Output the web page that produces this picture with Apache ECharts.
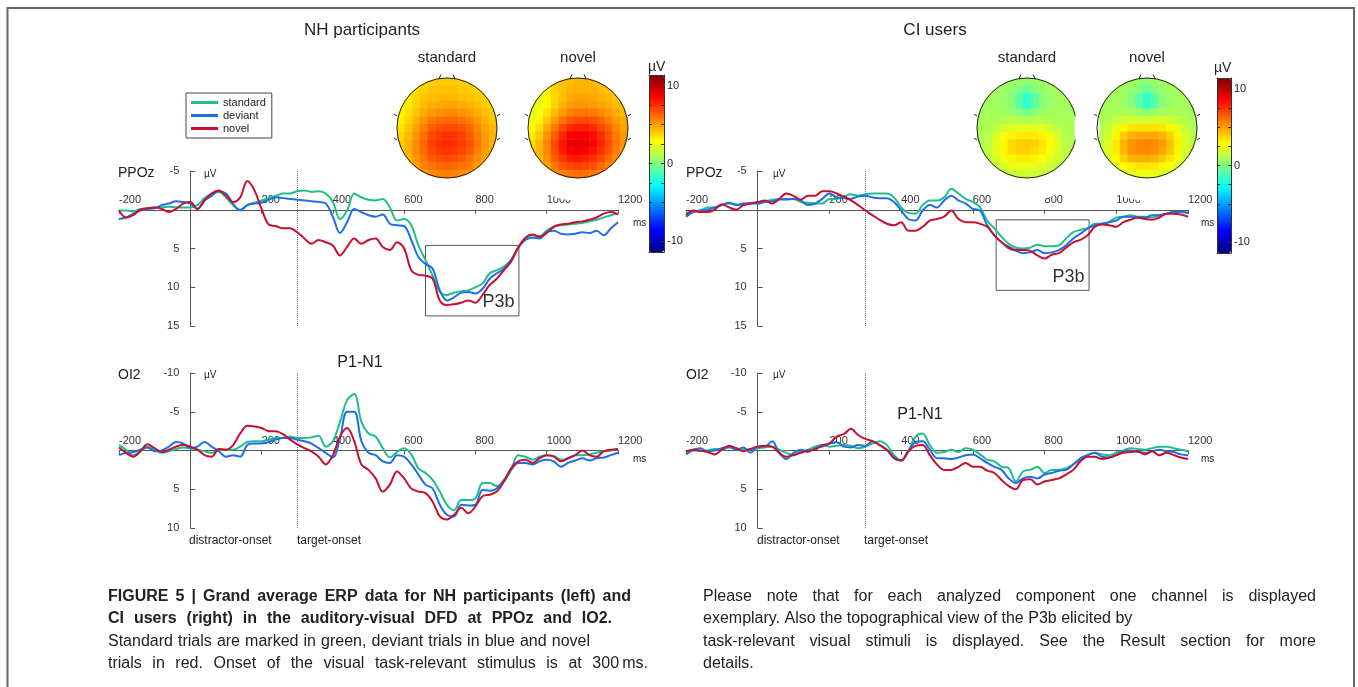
<!DOCTYPE html>
<html>
<head>
<meta charset="utf-8">
<title>Grand average ERP data</title>
<script src="https://cdn.jsdelivr.net/npm/echarts@6/dist/echarts.min.js"></script>
<style>
  html, body { margin: 0; padding: 0; background: #fff; }
  #chart { width: 1358px; height: 687px; }
</style>
</head>
<body>
<div id="chart"></div>
<script>
// time points (ms) shared by all ERP traces
const times = [-200, -180, -160, -140, -120, -100, -80, -60, -40, -20,
  0, 20, 40, 60, 80, 100, 120, 140, 160, 180,
  200, 220, 240, 260, 280, 300, 320, 340, 360, 380,
  400, 420, 440, 460, 480, 500, 520, 540, 560, 580,
  600, 620, 640, 660, 680, 700, 720, 740, 760, 780,
  800, 820, 840, 860, 880, 900, 920, 940, 960, 980,
  1000, 1020, 1040, 1060, 1080, 1100, 1120, 1140, 1160, 1180, 1200];

const targetOnset = 300;

// NH participants, PPOz (µV)
const nhPPOzStandard = [0.1, 0.1, 0.2, -0.1, -0.2, -0.3, -0.3, -0.4, -0.3, -0.3,
  -0.3, -0.6, -1.5, -2.1, -2.3, -1.6, -0.6, 0, -0.6, -0.9,
  -1.2, -1.5, -1.8, -2.1, -2.1, -2.4, -2.5, -2.3, -2.4, -2.1,
  -1.0, 1.2, 0.1, -2.1, -1.6, -1.3, -1.2, -1.4, -0.3, 1.4,
  1.2, 2.0, 4.6, 6.5, 8.5, 10.6, 11.0, 10.7, 10.5, 10.4,
  10.0, 9.5, 8.2, 7.8, 7.3, 6.5, 4.8, 3.7, 3.3, 3.4,
  2.7, 2.2, 2.0, 1.9, 1.8, 1.7, 1.5, 1.3, 1.0, 0.7, 0.5];
const nhPPOzDeviant = [1.2, 1.0, 0.5, 0.1, -0.1, -0.2, -0.6, -0.8, -1.1, -1.0,
  -0.8, -0.1, -1.2, -1.8, -2.4, -2.1, -0.8, 0.1, -0.6, -0.8,
  -0.9, -1.3, -1.6, -1.5, -1.4, -1.3, -1.2, -1.1, -1.0, -0.8,
  0.9, 3.0, 1.6, -0.1, 0.3, 0.7, 0.9, 0.6, 1.8, 2.0,
  2.1, 3.9, 6.1, 7.0, 7.6, 10.4, 11.7, 11.3, 10.7, 10.6,
  10.8, 10.2, 8.9, 8.2, 7.6, 6.5, 4.9, 3.9, 3.6, 3.7,
  2.9, 2.7, 3.1, 3.2, 3.1, 2.9, 3.0, 2.7, 3.3, 2.4, 1.6];
const nhPPOzNovel = [0.1, 1.0, 0.7, 0, -0.2, -0.3, -0.1, 0.3, -0.1, -0.8,
  -1.0, -0.1, -1.2, -2.1, -2.5, -1.8, -1.0, -1.6, -3.7, -2.5,
  -0.1, 1.9, 2.1, 2.4, 2.4, 2.9, 3.7, 4.4, 3.9, 4.2,
  4.6, 5.9, 4.8, 3.7, 4.4, 3.9, 3.7, 4.8, 5.2, 4.2,
  5.0, 7.8, 8.4, 8.5, 8.9, 11.7, 12.3, 12.2, 12.0, 11.7,
  12.0, 11.0, 9.7, 8.9, 7.8, 6.7, 4.9, 3.6, 3.2, 3.5,
  3.0, 2.2, 1.9, 1.8, 1.6, 1.5, 1.3, 1.0, 0.5, 0.3, 0.6];

// NH participants, OI2 (µV)
const nhOI2Standard = [-0.7, -0.1, 0.6, 0.1, -0.5, -0.1, 0.3, 0.1, -0.2, -0.4,
  -0.3, -0.1, 0.1, 0.3, 0, -0.1, -0.1, -0.5, -1.1, -1.2,
  -1.2, -1.4, -1.6, -1.6, -1.8, -1.6, -1.6, -1.7, -1.9, -0.5,
  -1.2, -3.7, -6.5, -7.3, -3.7, -2.2, -1.8, -0.3, 0.9, 0.2,
  -0.3, 0.5, 2.3, 2.9, 3.8, 5.3, 7.0, 7.7, 6.4, 6.4,
  6.2, 4.2, 4.2, 4.6, 4.0, 2.5, 0.6, 0.8, 1.2, 0.8,
  0.6, 0.7, 1.2, 1.0, 0.6, 0.6, 0.5, 0.3, 0.1, 0, -0.2];
const nhOI2Deviant = [0.6, 0.3, 0.2, -0.1, -0.4, 0.1, 0, -0.5, -1.1, -0.9,
  -0.3, -0.5, -1.1, -0.5, 0.1, 0.8, 0.6, 0.8, -0.7, -0.9,
  -0.9, -1.1, -1.4, -1.6, -1.6, -1.4, -1.2, -0.9, -0.3, 0.3,
  0.9, -1.6, -5.0, -5.0, -1.2, 0.3, 0.6, 1.4, 1.6, 0.6,
  0.8, 1.8, 3.1, 4.4, 4.9, 7.0, 8.3, 8.5, 7.0, 7.1,
  7.0, 5.1, 5.2, 4.9, 3.8, 2.5, 1.6, 1.6, 1.8, 1.4,
  1.2, 1.4, 2.1, 1.6, 1.3, 1.0, 1.3, 1.0, 0.9, 0.6, 0.3];
const nhOI2Novel = [-0.4, 0.3, 0.8, 0.1, -0.8, -0.3, 0.2, -0.1, -0.5, -0.7,
  -0.5, -0.1, 0.6, 0.8, -0.2, -0.1, -0.7, -2.2, -3.2, -3.1,
  -2.9, -2.5, -2.5, -2.1, -1.4, -0.8, -0.3, 0.1, 0.8, 1.8,
  0.6, -1.8, -2.9, -1.2, 1.8, 2.5, 3.6, 5.3, 4.4, 2.7,
  3.6, 4.9, 5.3, 5.5, 6.6, 8.5, 8.9, 8.3, 7.4, 8.1,
  7.2, 5.9, 5.7, 5.3, 4.0, 2.3, 1.4, 1.2, 1.6, 1.0,
  0.6, 0.8, 1.4, 1.0, 0.6, 0, 0.6, 0.8, 0.1, -0.1, -0.2];

// CI users, PPOz (µV)
const ciPPOzStandard = [0.4, 0.3, 0.1, -0.3, -0.3, -0.6, -0.8, -0.7, -0.6, -0.9,
  -0.9, -1.1, -1.3, -1.4, -1.3, -1.4, -1.0, -0.9, -0.8, -0.8,
  -1.4, -1.4, -1.7, -2.0, -1.8, -2.0, -2.1, -2.1, -2.1, -1.6,
  -0.3, 0.4, 0.5, -0.6, -1.2, -1.2, -1.6, -2.7, -2.1, -1.4,
  -1.0, -0.3, 1.4, 2.4, 3.5, 4.4, 4.9, 5.0, 4.9, 4.5,
  4.7, 4.7, 4.6, 3.7, 2.9, 2.6, 2.4, 1.8, 1.8, 1.6,
  1.0, 0.9, 0.7, 0.9, 0.9, 1.0, 0.7, 0.5, 0.3, 0.3, 0.4];
const ciPPOzDeviant = [0.9, 0.3, 0.1, 0, -0.3, -0.6, -0.9, -0.6, -0.8, -0.8,
  -0.8, -1.0, -1.1, -1.3, -1.4, -1.4, -1.2, -0.6, -0.8, -1.4,
  -2.1, -1.6, -1.5, -1.4, -1.7, -1.8, -1.6, -1.5, -1.5, -1.0,
  0.1, 1.2, 1.4, 0.1, -0.6, -0.3, -1.2, -1.8, -1.2, -0.8,
  -0.1, 0.1, 2.0, 3.3, 4.2, 5.0, 5.3, 5.6, 5.5, 5.2,
  5.6, 5.5, 5.2, 4.6, 3.7, 3.1, 2.4, 2.0, 1.8, 1.6,
  1.4, 0.9, 0.9, 1.0, 1.0, 0.7, 0.7, 0.5, 0.3, 0.3, 0.4];
const ciPPOzNovel = [0.7, 0.1, 0.3, 0.3, 0, -0.7, -0.3, 0, -0.6, -0.8,
  -1.0, -1.2, -0.8, -1.4, -2.1, -1.8, -1.3, -1.8, -1.8, -2.4,
  -2.4, -2.1, -1.7, -1.2, -0.6, 0.1, 0.7, 1.3, 1.8, 2.0,
  1.6, 2.7, 2.7, 2.2, 1.4, 1.2, 0.9, 0.1, 1.2, 1.6,
  1.6, 1.8, 2.2, 3.3, 4.2, 4.8, 5.2, 5.2, 5.3, 5.9,
  6.3, 5.8, 5.6, 4.9, 4.2, 3.9, 3.3, 2.2, 1.9, 2.0,
  2.2, 1.6, 1.3, 1.0, 1.2, 1.3, 1.0, 0.5, 0.5, 0.6, 0.9];

// CI users, OI2 (µV)
const ciOI2Standard = [0.2, 0, 0.1, 0, -0.2, -0.1, -0.4, -0.3, -0.1, -0.2,
  -0.3, -0.4, -0.5, -0.1, 0.3, 0.6, 0.1, -0.1, -0.5, -0.7,
  -0.5, -0.6, -0.7, -0.6, -0.3, -0.5, -0.9, -1.2, -0.7, 0.6,
  1.3, 0.1, -1.8, -2.2, -0.7, 0.3, 0.2, -0.1, 0.2, -0.3,
  -0.1, 0.5, 1.2, 1.4, 2.1, 2.3, 4.0, 2.7, 2.5, 2.1,
  2.9, 2.5, 2.5, 2.3, 1.8, 1.2, 0.6, 0.3, 0.5, 0.6,
  0.3, 0, -0.3, -0.2, -0.1, -0.3, -0.5, -0.5, -0.3, -0.1, 0.1];
const ciOI2Deviant = [0.5, -0.1, -0.3, 0.1, 0, -0.3, -0.5, -0.1, -0.4, 0.3,
  -0.5, -0.5, -1.2, 0.3, 1.1, 0.3, -0.1, 0.2, -0.3, -0.5,
  -0.9, -1.1, -0.5, -0.4, -0.7, -0.6, -1.2, -0.7, -0.1, 0.8,
  1.3, 0.1, -1.1, -1.2, -0.1, 1.0, 1.0, 1.1, 0.9, 0.6,
  0.5, 1.0, 1.6, 2.1, 2.5, 3.6, 4.2, 3.6, 3.4, 3.6,
  3.1, 2.9, 2.6, 2.5, 1.8, 1.0, 0.6, 0.3, 0.8, 0.9,
  0.6, 0.1, 0, 0.2, 0.3, 0.1, -0.1, 0.1, 0.2, 0.5, 0.6];
const ciOI2Novel = [0.1, -0.1, 0, 0.2, 0.5, -0.1, -0.6, -0.3, 0.1, -0.2,
  -0.5, -0.6, -0.5, 0.3, 0.8, 0.6, 0.3, 0, -0.1, -0.7,
  -0.9, -1.8, -2.1, -2.8, -2.0, -1.5, -1.2, -0.7, -0.1, 1.0,
  1.3, 0.1, -0.6, -0.7, 0.6, 1.8, 2.5, 2.5, 2.1, 1.6,
  2.1, 2.1, 2.6, 2.9, 3.8, 4.6, 5.0, 3.8, 3.7, 4.4,
  4.0, 3.8, 3.6, 3.1, 2.5, 1.4, 0.8, 0.8, 1.1, 0.9,
  0.6, 0.3, 0.2, 0.1, 0.5, 0.1, 0.6, 0.3, 0.6, 0.9, 1.1];

// P3b window [tStart, tEnd, vTop, vBottom]
const p3bBoxNH = [660, 922, 4.6, 13.7];
const p3bBoxCI = [665, 924, 1.3, 10.4];

// topographies of the P3b, 13x13 grid read row by row (front of head on top), µV
const topoNHStandard = [
  [3.5, 3.5, 3.6, 3.8, 3.9, 4.0, 4.0, 4.0, 3.9, 3.8, 3.6, 3.5, 3.5],
  [3.3, 3.4, 3.7, 3.9, 4.1, 4.2, 4.2, 4.2, 4.1, 4.0, 3.8, 3.6, 3.5],
  [3.1, 3.3, 3.7, 4.1, 4.3, 4.4, 4.4, 4.4, 4.3, 4.2, 4.0, 3.8, 3.6],
  [3.0, 3.3, 3.8, 4.3, 4.6, 4.7, 4.8, 4.8, 4.7, 4.5, 4.3, 4.0, 3.8],
  [3.0, 3.5, 4.1, 4.7, 5.1, 5.3, 5.4, 5.4, 5.3, 5.0, 4.6, 4.3, 4.0],
  [3.2, 3.8, 4.5, 5.2, 5.8, 6.1, 6.2, 6.2, 6.0, 5.6, 5.1, 4.6, 4.2],
  [3.5, 4.1, 4.9, 5.7, 6.4, 6.8, 6.9, 6.9, 6.7, 6.2, 5.5, 4.9, 4.4],
  [3.8, 4.4, 5.2, 6.1, 6.9, 7.3, 7.5, 7.4, 7.1, 6.6, 5.8, 5.1, 4.5],
  [4.0, 4.6, 5.4, 6.3, 7.1, 7.5, 7.6, 7.5, 7.2, 6.7, 5.9, 5.1, 4.6],
  [4.0, 4.6, 5.4, 6.2, 6.9, 7.3, 7.4, 7.3, 7.0, 6.5, 5.7, 5.0, 4.5],
  [4.0, 4.5, 5.2, 5.9, 6.5, 6.8, 6.9, 6.8, 6.5, 6.0, 5.4, 4.8, 4.4],
  [4.0, 4.4, 4.9, 5.5, 5.9, 6.2, 6.3, 6.2, 6.0, 5.6, 5.1, 4.6, 4.3],
  [4.0, 4.3, 4.6, 5.0, 5.4, 5.6, 5.7, 5.6, 5.4, 5.1, 4.8, 4.5, 4.2]
];
const topoNHNovel = [
  [3.0, 3.2, 3.5, 3.9, 4.2, 4.4, 4.5, 4.5, 4.4, 4.3, 4.1, 4.0, 4.0],
  [2.6, 2.8, 3.2, 3.8, 4.2, 4.5, 4.6, 4.6, 4.6, 4.4, 4.2, 4.0, 4.0],
  [2.3, 2.5, 3.0, 3.7, 4.3, 4.7, 4.9, 4.9, 4.8, 4.6, 4.4, 4.2, 4.0],
  [2.1, 2.4, 3.0, 3.8, 4.5, 5.0, 5.2, 5.2, 5.1, 4.9, 4.6, 4.4, 4.2],
  [2.2, 2.6, 3.4, 4.3, 5.1, 5.7, 5.9, 5.9, 5.8, 5.5, 5.1, 4.7, 4.4],
  [2.5, 3.1, 4.0, 5.0, 6.0, 6.6, 6.9, 6.9, 6.7, 6.3, 5.7, 5.1, 4.7],
  [2.9, 3.6, 4.7, 5.8, 6.9, 7.6, 7.9, 7.9, 7.6, 7.0, 6.3, 5.5, 4.9],
  [3.3, 4.1, 5.2, 6.5, 7.7, 8.5, 8.8, 8.7, 8.3, 7.6, 6.7, 5.8, 5.1],
  [3.7, 4.4, 5.5, 6.9, 8.1, 8.9, 9.1, 9.0, 8.5, 7.8, 6.9, 5.9, 5.2],
  [3.9, 4.5, 5.5, 6.8, 7.9, 8.6, 8.8, 8.6, 8.1, 7.5, 6.6, 5.7, 5.0],
  [4.0, 4.5, 5.3, 6.4, 7.3, 7.9, 8.0, 7.9, 7.5, 6.9, 6.1, 5.4, 4.8],
  [4.0, 4.4, 5.0, 5.8, 6.5, 7.0, 7.1, 7.0, 6.7, 6.2, 5.6, 5.0, 4.6],
  [4.0, 4.3, 4.7, 5.2, 5.7, 6.0, 6.1, 6.0, 5.8, 5.5, 5.1, 4.7, 4.4]
];
const topoCIStandard = [
  [0.8, 0.8, 0.8, 0.8, 0.7, 0.5, 0.3, 0.5, 0.7, 0.8, 0.8, 0.8, 0.8],
  [0.8, 0.8, 0.8, 0.7, 0.5, 0.0, -0.6, 0.0, 0.5, 0.7, 0.8, 0.8, 0.8],
  [0.8, 0.8, 0.8, 0.6, 0.2, -0.8, -1.8, -0.8, 0.2, 0.6, 0.8, 0.8, 0.8],
  [0.8, 0.8, 0.8, 0.6, 0.2, -0.8, -1.8, -0.8, 0.2, 0.6, 0.8, 0.8, 0.8],
  [0.8, 0.8, 0.8, 0.8, 0.6, 0.2, -0.3, 0.2, 0.6, 0.8, 0.8, 0.8, 0.8],
  [0.9, 0.9, 1.0, 1.1, 1.2, 1.2, 1.1, 1.2, 1.2, 1.1, 1.0, 0.9, 0.9],
  [1.0, 1.1, 1.4, 1.8, 2.1, 2.2, 2.2, 2.2, 2.1, 1.8, 1.4, 1.1, 1.0],
  [1.0, 1.3, 1.9, 2.6, 3.1, 3.3, 3.3, 3.3, 3.1, 2.6, 1.9, 1.3, 1.0],
  [1.0, 1.4, 2.2, 3.0, 3.6, 3.9, 4.0, 3.9, 3.5, 2.9, 2.1, 1.4, 1.0],
  [1.0, 1.4, 2.2, 3.0, 3.6, 3.9, 3.9, 3.7, 3.3, 2.7, 2.0, 1.4, 1.0],
  [1.0, 1.3, 1.9, 2.6, 3.1, 3.3, 3.3, 3.1, 2.8, 2.3, 1.8, 1.3, 1.0],
  [1.0, 1.1, 1.5, 1.9, 2.3, 2.4, 2.4, 2.3, 2.1, 1.8, 1.4, 1.1, 1.0],
  [1.0, 1.0, 1.2, 1.4, 1.6, 1.7, 1.7, 1.7, 1.6, 1.4, 1.2, 1.0, 1.0]
];
const topoCINovel = [
  [0.8, 0.8, 0.8, 0.8, 0.7, 0.5, 0.3, 0.5, 0.7, 0.8, 0.8, 0.8, 0.8],
  [0.8, 0.8, 0.8, 0.7, 0.5, 0.0, -0.6, 0.0, 0.5, 0.7, 0.8, 0.8, 0.8],
  [0.8, 0.8, 0.8, 0.6, 0.2, -0.8, -1.8, -0.8, 0.2, 0.6, 0.8, 0.8, 0.8],
  [0.8, 0.8, 0.8, 0.6, 0.2, -0.8, -1.7, -0.8, 0.2, 0.6, 0.8, 0.8, 0.8],
  [0.8, 0.9, 1.0, 1.0, 0.9, 0.6, 0.3, 0.6, 0.9, 1.0, 1.0, 0.9, 0.8],
  [0.9, 1.1, 1.5, 1.8, 1.9, 1.9, 1.8, 1.9, 1.9, 1.8, 1.5, 1.1, 0.9],
  [1.1, 1.5, 2.3, 3.0, 3.4, 3.5, 3.5, 3.5, 3.4, 3.0, 2.3, 1.5, 1.1],
  [1.3, 1.9, 3.0, 4.0, 4.6, 4.8, 4.8, 4.8, 4.5, 3.9, 3.0, 1.9, 1.3],
  [1.4, 2.1, 3.3, 4.5, 5.2, 5.5, 5.6, 5.5, 5.1, 4.3, 3.2, 2.1, 1.4],
  [1.4, 2.1, 3.3, 4.5, 5.2, 5.5, 5.5, 5.3, 4.9, 4.1, 3.1, 2.0, 1.4],
  [1.3, 1.9, 2.9, 3.9, 4.5, 4.7, 4.7, 4.5, 4.1, 3.5, 2.7, 1.8, 1.3],
  [1.1, 1.5, 2.2, 2.8, 3.2, 3.4, 3.4, 3.3, 3.0, 2.6, 2.0, 1.5, 1.1],
  [1.0, 1.2, 1.6, 2.0, 2.3, 2.4, 2.4, 2.4, 2.2, 1.9, 1.6, 1.2, 1.0]
];

// colour bar range and labels (µV)
const cbMax = 11.4;
const cbLabels = [-10, 0, 10];
const cbTicks = [-10, -7.5, -5, -2.5, 0, 2.5, 5, 7.5, 10];

const FONT = "'Liberation Sans', Arial, Helvetica, sans-serif";
const NAMES = ['standard', 'deviant', 'novel'];
const COLORS = ['#1dbf8c', '#1f6ee8', '#c8102e'];
const JET = ['#00007f', '#0000ff', '#007fff', '#00ffff', '#7fff7f', '#ffff00', '#ff7f00', '#ff0000', '#7f0000'];

const T_MIN = -200, T_MAX = 1200, PANEL_H = 155;
const erpPanels = [
  { left: 119, top: 171, width: 499, yMin: -5, yMax: 15, traces: [nhPPOzStandard, nhPPOzDeviant, nhPPOzNovel], box: p3bBoxNH },
  { left: 119, top: 373, width: 499, yMin: -10, yMax: 10, traces: [nhOI2Standard, nhOI2Deviant, nhOI2Novel] },
  { left: 686, top: 171, width: 502, yMin: -5, yMax: 15, traces: [ciPPOzStandard, ciPPOzDeviant, ciPPOzNovel], box: p3bBoxCI },
  { left: 686, top: 373, width: 502, yMin: -10, yMax: 10, traces: [ciOI2Standard, ciOI2Deviant, ciOI2Novel] }
];
const topoPanels = [
  { left: 397, top: 78, values: topoNHStandard, vm: 0 },
  { left: 528, top: 78, values: topoNHNovel, vm: 0 },
  { left: 977, top: 78, values: topoCIStandard, vm: 1 },
  { left: 1097, top: 78, values: topoCINovel, vm: 1 }
];
const colorBars = [
  { left: 649, top: 75, width: 15, height: 177 },
  { left: 1217, top: 78, width: 14, height: 175 }
];

const grid = [];
const xAxis = [];
const yAxis = [];
const series = [];
const vmSeries = [[], []];

const hideZero = v => (v === 0 ? '' : String(v));
const lineCol = { color: '#555', width: 1 };
const labelStyle = { fontSize: 11, color: '#333', fontFamily: FONT };
const hiddenValueAxis = gi => ({ gridIndex: gi, type: 'value', min: 0, max: 1, show: false });

erpPanels.forEach(p => {
  // main plotting area: axis lines cross at (0 ms, 0 µV)
  const gi = grid.length;
  grid.push({ left: p.left, top: p.top, width: p.width, height: PANEL_H });
  xAxis.push({
    gridIndex: gi, type: 'value', min: T_MIN, max: T_MAX, interval: 200, z: 3,
    axisLine: { onZero: true, lineStyle: lineCol },
    axisTick: { length: 4, lineStyle: lineCol },
    axisLabel: { show: false }, splitLine: { show: false }
  });
  yAxis.push({
    gridIndex: gi, type: 'value', inverse: true, min: p.yMin, max: p.yMax, interval: 5, z: 3,
    axisLine: { onZero: true, lineStyle: lineCol },
    axisTick: { inside: true, length: 5, lineStyle: lineCol },
    axisLabel: { show: false }, splitLine: { show: false }
  });
  p.traces.forEach((arr, k) => {
    const s = {
      type: 'line', name: NAMES[k], xAxisIndex: gi, yAxisIndex: gi,
      data: times.map((t, i) => [t, arr[i]]),
      showSymbol: false, smooth: 0.35, silent: true, z: 4,
      lineStyle: { width: 2, color: COLORS[k] },
      itemStyle: { color: COLORS[k] }
    };
    if (k === 0) {
      s.markLine = {
        silent: true, symbol: ['none', 'none'], label: { show: false },
        lineStyle: { type: 'dotted', color: '#777', width: 1 },
        data: [{ xAxis: targetOnset }]
      };
    }
    if (k === 2 && p.box) {
      s.markArea = {
        silent: true,
        itemStyle: { color: 'rgba(0,0,0,0)', borderColor: '#555', borderWidth: 1 },
        label: { show: true, position: 'insideBottomRight', distance: 5, fontSize: 18, color: '#333', fontFamily: FONT },
        data: [[{ name: 'P3b', xAxis: p.box[0], yAxis: p.box[2] }, { xAxis: p.box[1], yAxis: p.box[3] }]]
      };
    }
    series.push(s);
  });

  // label carriers that sit on the zero lines
  const x0 = p.left + p.width * (0 - T_MIN) / (T_MAX - T_MIN);
  const y0 = p.top + PANEL_H * (0 - p.yMin) / (p.yMax - p.yMin);
  const gy = grid.length;
  grid.push({ left: x0, top: p.top, width: 1, height: PANEL_H });
  xAxis.push(hiddenValueAxis(gy));
  yAxis.push({
    gridIndex: gy, type: 'value', inverse: true, min: p.yMin, max: p.yMax, interval: 5, position: 'left',
    axisLine: { show: false }, axisTick: { show: false }, splitLine: { show: false },
    axisLabel: Object.assign({ margin: 11, formatter: hideZero }, labelStyle)
  });
  const gx = grid.length;
  grid.push({ left: p.left, top: p.top, width: p.width, height: y0 - p.top });
  xAxis.push({
    gridIndex: gx, type: 'value', min: T_MIN, max: T_MAX, interval: 200, position: 'bottom',
    axisLine: { show: false }, axisTick: { show: false }, splitLine: { show: false },
    axisLabel: Object.assign({ inside: true, align: 'left', margin: 4, formatter: hideZero }, labelStyle)
  });
  yAxis.push(hiddenValueAxis(gx));
});

// scalp maps
topoPanels.forEach(p => {
  const gi = grid.length;
  const n = p.values.length;
  const cats = p.values.map((_, i) => String(i));
  const mid = (n - 1) / 2;
  grid.push({ left: p.left, top: p.top, width: 100, height: 100 });
  xAxis.push({ gridIndex: gi, type: 'category', data: cats, show: false });
  yAxis.push({ gridIndex: gi, type: 'category', data: cats, inverse: true, show: false });
  const cells = [];
  p.values.forEach((row, r) => row.forEach((v, c) => cells.push([c, r, v])));
  vmSeries[p.vm].push(series.length);
  series.push({
    type: 'heatmap', xAxisIndex: gi, yAxisIndex: gi, data: cells, z: 1, silent: true,
    itemStyle: { borderWidth: 0 }, emphasis: { disabled: true }
  });
  // head outline: white mask outside the circle, outline, nose and ears
  series.push({
    type: 'custom', xAxisIndex: gi, yAxisIndex: gi, data: [[mid, mid]], z: 2, silent: true,
    renderItem: (params, api) => {
      const c = api.coord([mid, mid]);
      const R = api.size([1, 1])[0] * n / 2;
      const stroke = { fill: 'none', stroke: '#222', lineWidth: 1 };
      const children = [
        { type: 'circle', shape: { cx: c[0], cy: c[1], r: R + 11.5 }, style: { fill: 'none', stroke: '#fff', lineWidth: 22 } },
        { type: 'circle', shape: { cx: c[0], cy: c[1], r: R }, style: stroke },
        { type: 'polyline', shape: { points: [[c[0] - 8, c[1] - R + 0.5], [c[0] - 6, c[1] - R - 3.5]] }, style: stroke },
        { type: 'polyline', shape: { points: [[c[0] + 8, c[1] - R + 0.5], [c[0] + 6, c[1] - R - 3.5]] }, style: stroke }
      ];
      [-12, 12].forEach(dy => {
        children.push({ type: 'polyline', shape: { points: [[c[0] - R, c[1] + dy], [c[0] - R - 3, c[1] + dy - 2]] }, style: stroke });
        children.push({ type: 'polyline', shape: { points: [[c[0] + R, c[1] + dy], [c[0] + R + 3, c[1] + dy - 2]] }, style: stroke });
      });
      return { type: 'group', children };
    }
  });
});

// colour bar frames with labels
colorBars.forEach(b => {
  const gi = grid.length;
  grid.push({ left: b.left, top: b.top, width: b.width, height: b.height });
  ['bottom', 'top'].forEach(pos => xAxis.push({
    gridIndex: gi, type: 'value', min: 0, max: 1, position: pos, z: 6,
    axisLine: { show: true, onZero: false, lineStyle: { color: '#333' } },
    axisTick: { show: false }, axisLabel: { show: false }, splitLine: { show: false }
  }));
  ['right', 'left'].forEach(pos => yAxis.push({
    gridIndex: gi, type: 'value', min: -cbMax, max: cbMax, position: pos, z: 6,
    axisLine: { show: true, onZero: false, lineStyle: { color: '#333' } },
    axisTick: { show: true, inside: true, length: 3, customValues: cbTicks, lineStyle: { color: '#333' } },
    axisLabel: { show: pos === 'right', customValues: cbLabels, margin: 3, fontSize: 11, color: '#222', fontFamily: FONT },
    splitLine: { show: false }
  }));
});

const visualMap = colorBars.map((b, i) => ({
  type: 'continuous', seriesIndex: vmSeries[i], min: -cbMax, max: cbMax,
  inRange: { color: JET }, left: b.left, top: b.top, padding: 0,
  itemWidth: b.width, itemHeight: b.height, calculable: false, hoverLink: false, z: 4
}));

// free text of the figure: [text, x, y, size, align, weight, justified width]
const texts = [
  ['NH participants', 362, 30, 17, 'center', 'normal'],
  ['CI users', 935, 30, 17, 'center', 'normal'],
  ['standard', 447, 58, 15, 'center', 'normal'],
  ['novel', 578, 58, 15, 'center', 'normal'],
  ['standard', 1027, 58, 15, 'center', 'normal'],
  ['novel', 1147, 58, 15, 'center', 'normal'],
  ['µV', 648, 67, 14, 'left', 'normal'],
  ['µV', 1214, 68, 14, 'left', 'normal'],
  ['PPOz', 118, 173, 14, 'left', 'normal'],
  ['PPOz', 686, 173, 14, 'left', 'normal'],
  ['OI2', 118, 375, 14, 'left', 'normal'],
  ['OI2', 686, 375, 14, 'left', 'normal'],
  ['µV', 204, 174, 10, 'left', 'normal'],
  ['µV', 773, 174, 10, 'left', 'normal'],
  ['µV', 204, 375, 10, 'left', 'normal'],
  ['µV', 773, 375, 10, 'left', 'normal'],
  ['ms', 633, 223, 10, 'left', 'normal'],
  ['ms', 1201, 223, 10, 'left', 'normal'],
  ['ms', 633, 459, 10, 'left', 'normal'],
  ['ms', 1201, 459, 10, 'left', 'normal'],
  ['P1-N1', 360, 363, 16, 'center', 'normal'],
  ['P1-N1', 920, 415, 16, 'center', 'normal'],
  ['distractor-onset', 189, 541, 12, 'left', 'normal'],
  ['target-onset', 297, 541, 12, 'left', 'normal'],
  ['distractor-onset', 757, 541, 12, 'left', 'normal'],
  ['target-onset', 864, 541, 12, 'left', 'normal'],
  ['FIGURE 5 | Grand average ERP data for NH participants (left) and', 108, 597, 16, 'left', 'bold', 523],
  ['CI users (right) in the auditory-visual DFD at PPOz and IO2.', 108, 619, 16, 'left', 'bold', 504],
  ['Standard trials are marked in green, deviant trials in blue and novel', 108, 642, 16, 'left', 'normal', 482],
  ['trials in red. Onset of the visual task-relevant stimulus is at 300\u2009ms.', 108, 664, 16, 'left', 'normal', 540],
  ['Please note that for each analyzed component one channel is displayed', 703, 597, 16, 'left', 'normal', 613],
  ['exemplary. Also the topographical view of the P3b elicited by', 703, 619, 16, 'left', 'normal'],
  ['task-relevant visual stimuli is displayed. See the Result section for more', 703, 642, 16, 'left', 'normal', 613],
  ['details.', 703, 664, 16, 'left', 'normal']
];

const measure = document.createElement('canvas').getContext('2d');
const graphic = [];
texts.forEach(([text, x, y, size, align, weight, justify]) => {
  const style = { fill: '#222', fontSize: size, fontWeight: weight, fontFamily: FONT, verticalAlign: 'middle' };
  const words = text.split(' ');
  if (!justify || words.length < 2) {
    graphic.push({ type: 'text', x, y, z: 100, silent: true, style: Object.assign({ text, align }, style) });
    return;
  }
  measure.font = weight + ' ' + size + 'px ' + FONT;
  const widths = words.map(w => measure.measureText(w).width);
  const gap = (justify - widths.reduce((a, b) => a + b, 0)) / (words.length - 1);
  let cx = x;
  words.forEach((w, i) => {
    graphic.push({ type: 'text', x: cx, y, z: 100, silent: true, style: Object.assign({ text: w, align: 'left' }, style) });
    cx += widths[i] + gap;
  });
});
graphic.push({
  type: 'rect', z: 100, silent: true,
  shape: { x: 7.5, y: 8, width: 1346.5, height: 700 },
  style: { fill: 'none', stroke: '#666', lineWidth: 2 }
});

const chart = echarts.init(document.getElementById('chart'));
chart.setOption({
  animation: false,
  backgroundColor: '#fff',
  textStyle: { fontFamily: FONT },
  legend: {
    data: NAMES, orient: 'vertical', left: 186, top: 93, padding: [4, 6, 4, 5],
    itemGap: 2, itemWidth: 27, itemHeight: 3, icon: 'rect', selectedMode: false,
    borderColor: '#444', borderWidth: 1, borderRadius: 0,
    textStyle: { fontSize: 11, color: '#222', fontFamily: FONT }
  },
  grid, xAxis, yAxis, visualMap, series, graphic
});
</script>
</body>
</html>
